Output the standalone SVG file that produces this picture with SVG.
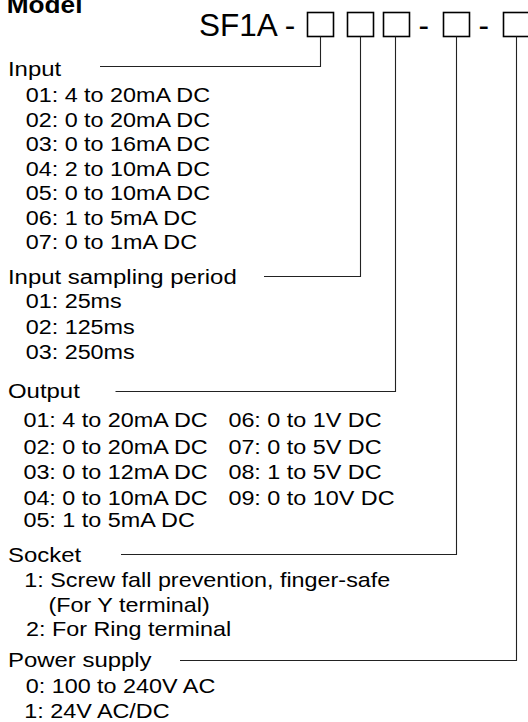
<svg xmlns="http://www.w3.org/2000/svg" width="528" height="722" viewBox="0 0 528 722">
<style>
  text { font-family: "Liberation Sans", Arial, sans-serif; fill: #000; }
  .hd { font-size: 21px; }
  .it { font-size: 20.5px; }
  .model { font-size: 23px; font-weight: bold; }
  .code { font-size: 31.5px; }
  .box { fill: none; stroke: #000; stroke-width: 1.6; }
  .conn { fill: none; stroke: #222; stroke-width: 1.1; }
</style>
<rect x="0" y="0" width="528" height="722" fill="#fff"/>

<g id="code">
  <text class="code" x="199" y="36">SF1A -</text>
  <text class="code" x="418.5" y="36">-</text>
  <text class="code" x="478.5" y="36">-</text>
  <rect id="box1" class="box" x="307.5" y="12.5" width="26" height="24"/>
  <rect id="box2" class="box" x="347.5" y="12.5" width="26" height="24"/>
  <rect id="box3" class="box" x="383.5" y="12.5" width="26" height="24"/>
  <rect id="box4" class="box" x="443.5" y="12.5" width="26" height="24"/>
  <rect id="box5" class="box" x="503.5" y="12.5" width="26" height="24"/>
</g>

<g id="connectors">
  <polyline class="conn" points="100,66.5 320.5,66.5 320.5,36.5"/>
  <polyline class="conn" points="264,276.5 360.5,276.5 360.5,36.5"/>
  <polyline class="conn" points="115.5,391.5 395.5,391.5 395.5,36.5"/>
  <polyline class="conn" points="121,554.5 456.5,554.5 456.5,36.5"/>
  <polyline class="conn" points="180,660.5 516.5,660.5 516.5,36.5"/>
</g>

<g transform="scale(1.14,1)">
  <g id="title">
    <text class="model" x="5.9" y="13">Model</text>
  </g>
  <g id="input">
    <text class="hd" x="7" y="76">Input</text>
    <text class="it" x="22.54" y="102.5">01: 4 to 20mA DC</text>
    <text class="it" x="22.54" y="127">02: 0 to 20mA DC</text>
    <text class="it" x="22.54" y="151.5">03: 0 to 16mA DC</text>
    <text class="it" x="22.54" y="176">04: 2 to 10mA DC</text>
    <text class="it" x="22.54" y="200.5">05: 0 to 10mA DC</text>
    <text class="it" x="22.54" y="225">06: 1 to 5mA DC</text>
    <text class="it" x="22.54" y="249.5">07: 0 to 1mA DC</text>
  </g>
  <g id="sampling">
    <text class="hd" x="7" y="284.5">Input sampling period</text>
    <text class="it" x="22.54" y="308.5">01: 25ms</text>
    <text class="it" x="22.54" y="334">02: 125ms</text>
    <text class="it" x="22.54" y="359">03: 250ms</text>
  </g>
  <g id="output">
    <text class="hd" x="7" y="398">Output</text>
    <text class="it" x="20.53" y="427">01: 4 to 20mA DC</text>
    <text class="it" x="20.53" y="454">02: 0 to 20mA DC</text>
    <text class="it" x="20.53" y="479.5">03: 0 to 12mA DC</text>
    <text class="it" x="20.53" y="505.5">04: 0 to 10mA DC</text>
    <text class="it" x="20.53" y="527">05: 1 to 5mA DC</text>
    <text class="it" x="200.35" y="427">06: 0 to 1V DC</text>
    <text class="it" x="200.35" y="454">07: 0 to 5V DC</text>
    <text class="it" x="200.35" y="479.5">08: 1 to 5V DC</text>
    <text class="it" x="200.35" y="505.5">09: 0 to 10V DC</text>
  </g>
  <g id="socket">
    <text class="hd" x="7" y="562">Socket</text>
    <text class="it" x="21.23" y="587">1: Screw fall prevention, finger-safe</text>
    <text class="it" x="42.46" y="612.5">(For Y terminal)</text>
    <text class="it" x="22.8" y="636.5">2: For Ring terminal</text>
  </g>
  <g id="power">
    <text class="hd" x="7" y="667">Power supply</text>
    <text class="it" x="22.54" y="693">0: 100 to 240V AC</text>
    <text class="it" x="21.23" y="718">1: 24V AC/DC</text>
  </g>
</g>
</svg>
